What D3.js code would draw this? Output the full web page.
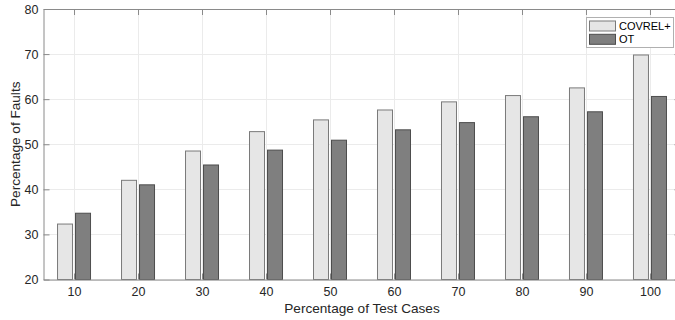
<!DOCTYPE html>
<html>
<head>
<meta charset="utf-8">
<script src="https://cdn.jsdelivr.net/npm/d3@7"></script>
<style>
  html, body { margin: 0; padding: 0; background: #fff; }
  svg { display: block; font-family: "Liberation Sans", Arial, Helvetica, sans-serif; }
</style>
</head>
<body>
<svg id="chart" width="675" height="320"></svg>
<script>
// Share of faults detected against share of test cases executed
const categories = [10, 20, 30, 40, 50, 60, 70, 80, 90, 100];
const covrel = [32.3, 42.0, 48.5, 52.8, 55.4, 57.6, 59.4, 60.8, 62.5, 69.8];
const ot     = [34.7, 41.0, 45.4, 48.7, 50.9, 53.2, 54.8, 56.1, 57.2, 60.6];
const seriesNames = ["COVREL+", "OT"];
const yTicks = [20, 30, 40, 50, 60, 70, 80];

const series = [
  { name: seriesNames[0], values: covrel, fill: "#e6e6e6", stroke: "#7a7a7a", offset: -1 },
  { name: seriesNames[1], values: ot,     fill: "#7f7f7f", stroke: "#4d4d4d", offset: 1 }
];

const svg = d3.select("#chart");
const plot = { left: 43.5, right: 680.5, top: 9, bottom: 279.5 };

// category index -> horizontal position
const x = d3.scaleLinear().domain([0.523, 10.477]).range([plot.left, plot.right]);
const y = d3.scaleLinear().domain([20, 80]).range([plot.bottom, plot.top]);

const barW = 15;       // px width of each bar
const barShift = 9;    // px from group centre to bar centre

// grid
const grid = svg.append("g").attr("stroke", "#ebebeb").attr("stroke-width", 1);
grid.selectAll("line.h").data(yTicks).join("line")
  .attr("x1", plot.left).attr("x2", plot.right)
  .attr("y1", d => Math.round(y(d)) + 0.5).attr("y2", d => Math.round(y(d)) + 0.5);
grid.selectAll("line.v").data(categories).join("line")
  .attr("x1", (d, i) => Math.round(x(i + 1)) + 0.5).attr("x2", (d, i) => Math.round(x(i + 1)) + 0.5)
  .attr("y1", plot.top).attr("y2", plot.bottom);

// bars
series.forEach(s => {
  svg.append("g").selectAll("rect").data(s.values).join("rect")
    .attr("x", (v, i) => x(i + 1) + s.offset * barShift - barW / 2)
    .attr("width", barW)
    .attr("y", v => y(v))
    .attr("height", v => y(20) - y(v))
    .attr("fill", s.fill)
    .attr("stroke", s.stroke)
    .attr("stroke-width", 1);
});

// axes
const axisColor = "#8a8a8a";
const textColor = "#262626";
const tickLen = 6;

const xAxis = d3.axisBottom(x)
  .tickValues(categories.map((c, i) => i + 1))
  .tickFormat((d, i) => categories[i])
  .tickSizeInner(-tickLen).tickSizeOuter(0).tickPadding(7.5);
const gx = svg.append("g").attr("transform", `translate(0,${plot.bottom})`).call(xAxis);

const yAxis = d3.axisLeft(y).tickValues(yTicks)
  .tickSizeInner(-tickLen).tickSizeOuter(0).tickPadding(5);
const gy = svg.append("g").attr("transform", `translate(${plot.left},0)`).call(yAxis);

// top and right box edges with inward ticks
const xTop = d3.axisTop(x).tickValues(categories.map((c, i) => i + 1))
  .tickFormat("").tickSizeInner(-tickLen).tickSizeOuter(0);
const gt = svg.append("g").attr("transform", `translate(0,${plot.top})`).call(xTop);
const yRight = d3.axisRight(y).tickValues(yTicks).tickFormat("")
  .tickSizeInner(-tickLen).tickSizeOuter(0);
const gr = svg.append("g").attr("transform", `translate(${plot.right},0)`).call(yRight);

[gx, gy, gt, gr].forEach(g => {
  g.select(".domain").attr("stroke", axisColor);
  g.selectAll(".tick line").attr("stroke", axisColor);
  g.selectAll(".tick text").attr("fill", textColor).style("font-size", "12.5px");
});

// axis titles
svg.append("text")
  .attr("x", (plot.left + plot.right) / 2).attr("y", 313)
  .attr("text-anchor", "middle").attr("fill", textColor)
  .style("font-size", "13.6px")
  .text("Percentage of Test Cases");
svg.append("text")
  .attr("transform", `translate(19.5,${(plot.top + plot.bottom) / 2}) rotate(-90)`)
  .attr("text-anchor", "middle").attr("fill", textColor)
  .style("font-size", "13.6px")
  .text("Percentage of Faults");

// legend
const lg = svg.append("g").attr("transform", "translate(586.5,17.5)");
lg.append("rect").attr("width", 87).attr("height", 30)
  .attr("fill", "#fff").attr("stroke", "#b0b0b0");
series.forEach((s, i) => {
  const row = lg.append("g").attr("transform", `translate(3,${3.5 + i * 13.3})`);
  row.append("rect").attr("width", 26).attr("height", 10)
    .attr("fill", s.fill).attr("stroke", s.stroke);
  row.append("text").attr("x", 29.5).attr("y", 5).attr("dy", "0.35em")
    .attr("fill", "#000").style("font-size", "11px").text(s.name);
});
</script>
</body>
</html>
